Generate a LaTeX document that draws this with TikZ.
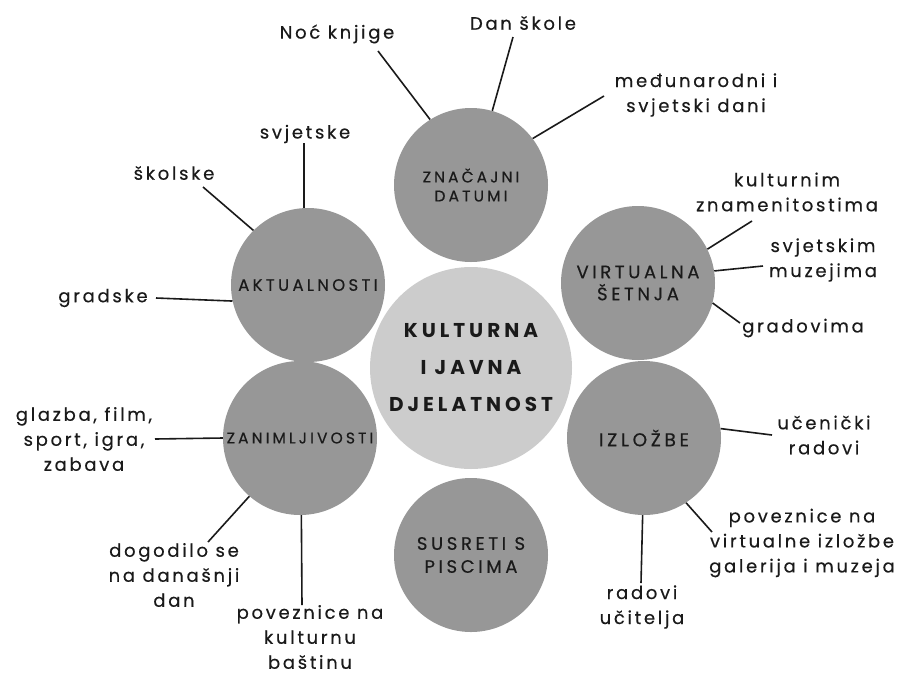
\documentclass[tikz,border=0pt]{standalone}
\usepackage{fontspec}
\usepackage{xcolor}
\usepackage{tikz}
\setmainfont{Poppins}
\newfontfamily\lblfont[LetterSpace=15,FakeBold=0.4]{Poppins}
\newfontfamily\capfont[LetterSpace=20,FakeBold=0.4]{Poppins}
\newfontfamily\hubfont[LetterSpace=20]{Poppins}
\definecolor{bubblegray}{HTML}{979797}
\definecolor{hubgray}{HTML}{CCCCCC}
\definecolor{inkgray}{HTML}{1A1A1A}
\tikzset{
	bubble/.style 2 args={circle,fill=bubblegray,minimum size=154pt,inner sep=0pt,align=center,text=inkgray,font=\capfont\fontsize{#1}{#2}\selectfont},
	hub/.style={circle,fill=hubgray,minimum size=202pt,inner sep=0pt,align=center,text=inkgray,font=\hubfont\bfseries\fontsize{20}{37}\selectfont},
	lbl/.style={align=center,inner sep=0pt,text=inkgray,font=\lblfont\fontsize{18}{25}\selectfont},
	conn/.style={line width=1.6pt,inkgray}
}

\begin{document}
\begin{tikzpicture}[x=1pt,y=-1pt]
	\useasboundingbox (0,0) rectangle (907,673);
	\node[hub] (hub) at (471,368) {KULTURNA\\I JAVNA\\DJELATNOST};
	\node[bubble={15.5}{19}] (datumi) at (471,185) {ZNAČAJNI\\DATUMI};
	\node[bubble={18}{22}] (setnja) at (638,283) {VIRTUALNA\\ŠETNJA};
	\node[bubble={18.5}{22}] (izlozbe) at (644,438) {IZLOŽBE};
	\node[bubble={18}{23}] (susreti) at (471,555) {SUSRETI S\\PISCIMA};
	\node[bubble={15.5}{20}] (zanim) at (300,438) {ZANIMLJIVOSTI};
	\node[bubble={16.5}{20}] (aktual) at (308,285) {AKTUALNOSTI};

	\node[lbl] (noc) at (337,34) {Noć knjige};
	\node[lbl] (dan) at (523,23) {Dan škole};
	\node[lbl] (medu) at (696,95) {međunarodni i\\svjetski dani};
	\node[lbl] (svjetske) at (305,134) {svjetske};
	\node[lbl] (skolske) at (174,173) {školske};
	\node[lbl] (gradske) at (103,298) {gradske};
	\node[lbl] (kult) at (787,192) {kulturnim\\znamenitostima};
	\node[lbl] (muzeji) at (823,260) {svjetskim\\muzejima};
	\node[lbl] (gradovi) at (803,328) {gradovima};
	\node[lbl] (ucen) at (824,435) {učenički\\radovi};
	\node[lbl] (virt) at (802,543) {poveznice na\\virtualne izložbe\\galerija i muzeja};
	\node[lbl] (ucit) at (642,607) {radovi\\učitelja};
	\node[lbl] (glazba) at (84,439) {glazba, film,\\sport, igra,\\zabava};
	\node[lbl] (dogod) at (174,575) {dogodilo se\\na današnji\\dan};
	\node[lbl] (bastina) at (310,637) {poveznice na\\kulturnu\\baštinu};

	\coordinate (noc-e) at (378,51);
	\coordinate (dan-e) at (513,37);
	\coordinate (medu-e) at (604,96);
	\coordinate (svj-e) at (304,143);
	\coordinate (sko-e) at (203,187);
	\coordinate (gra-e) at (156,298);
	\coordinate (kult-e) at (752,221);
	\coordinate (muz-e) at (763,266);
	\coordinate (grad-e) at (740,323);
	\coordinate (ucen-e) at (772,435);
	\coordinate (virt-e) at (712,532);
	\coordinate (ucit-e) at (641,583);
	\coordinate (glaz-e) at (155,439);
	\coordinate (dog-e) at (208,542);
	\coordinate (bas-e) at (302,605);

	\draw[conn] (datumi.122) -- (noc-e);
	\draw[conn] (datumi.74) -- (dan-e);
	\draw[conn] (datumi.37) -- (medu-e);
	\draw[conn] (aktual.93) -- (svj-e);
	\draw[conn] (aktual.135) -- (sko-e);
	\draw[conn] (aktual.192) -- (gra-e);
	\draw[conn] (setnja.26) -- (kult-e);
	\draw[conn] (setnja.9) -- (muz-e);
	\draw[conn] (setnja.-15) -- (grad-e);
	\draw[conn] (izlozbe.7) -- (ucen-e);
	\draw[conn] (izlozbe.-57) -- (virt-e);
	\draw[conn] (izlozbe.-91) -- (ucit-e);
	\draw[conn] (zanim.180) -- (glaz-e);
	\draw[conn] (zanim.229) -- (dog-e);
	\draw[conn] (zanim.-89) -- (bas-e);
\end{tikzpicture}
\end{document}
